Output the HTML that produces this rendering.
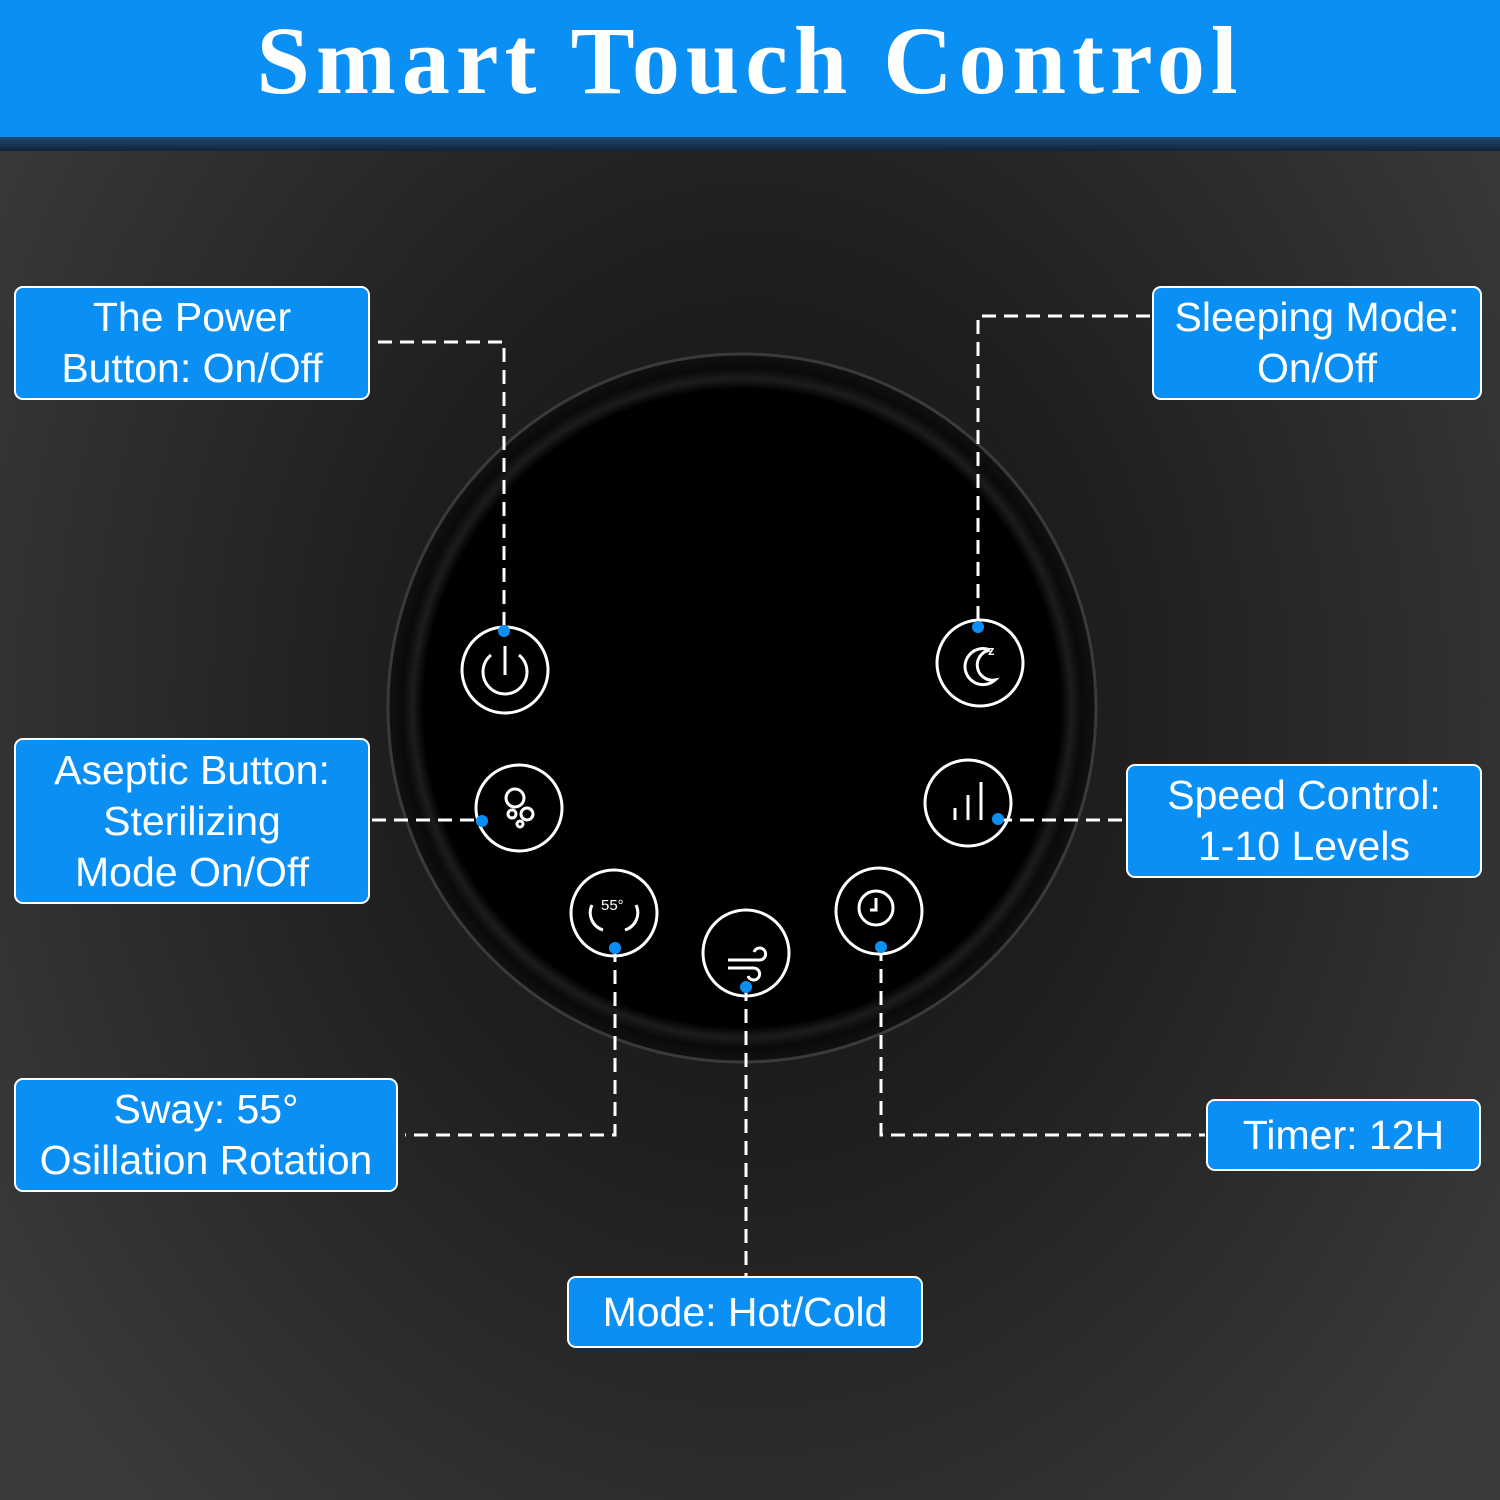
<!DOCTYPE html>
<html><head><meta charset="utf-8"><style>
body{margin:0;width:1500px;height:1500px;overflow:hidden;background:#262626;font-family:"Liberation Sans",sans-serif}
#bg{position:absolute;left:0;top:0;width:1500px;height:1500px;background:radial-gradient(ellipse 900px 1100px at 750px 700px,#151515 0%,#1e1e1e 40%,#2e2e2e 75%,#3a3a3a 100%)}
#hdr{position:absolute;left:0;top:0;width:1500px;height:137px;background:#0a8ff5;color:#fff;font-family:"Liberation Serif",serif;font-weight:bold;font-size:96px;text-align:center;line-height:122px;letter-spacing:6px}
#strip{position:absolute;left:0;top:137px;width:1500px;height:14px;background:linear-gradient(#1e4a70,#10243a)}
.box{position:absolute;box-sizing:border-box;background:#0a8ff5;border:2px solid #fff;border-radius:9px;color:#fff;font-size:41px;line-height:51px;text-align:center;display:flex;align-items:center;justify-content:center}
svg{position:absolute;left:0;top:0}
</style></head><body>
<div id="bg"></div>
<div id="hdr">Smart Touch Control</div>
<div id="strip"></div>
<svg width="1500" height="1500">
<defs><radialGradient id="d" cx="50%" cy="50%" r="50%"><stop offset="0.9" stop-color="#000"/><stop offset="0.93" stop-color="#1c1c1c"/><stop offset="0.96" stop-color="#0a0a0a"/><stop offset="1" stop-color="#111"/></radialGradient></defs>
<circle cx="742" cy="708" r="354" fill="url(#d)" stroke="#3a3a3a" stroke-width="3"/>
<g fill="none" stroke="#fff" stroke-width="3">
<circle cx="505" cy="670" r="43"/><circle cx="980" cy="663" r="43"/>
<circle cx="519" cy="808" r="43"/><circle cx="968" cy="803" r="43"/>
<circle cx="614" cy="913" r="43"/><circle cx="746" cy="953" r="43"/>
<circle cx="879" cy="911" r="43"/>
<path d="M491 655 A22 22 0 1 0 519 655"/><line x1="505" y1="646" x2="505" y2="675"/>
<path d="M990 650 A18 18 0 1 0 995 680 A14 14 0 1 1 990 650"/>
<line x1="955" y1="820" x2="955" y2="808"/><line x1="968" y1="820" x2="968" y2="795"/><line x1="981" y1="820" x2="981" y2="782"/>
<circle cx="515" cy="798" r="9"/><circle cx="527" cy="814" r="6"/><circle cx="512" cy="814" r="4"/><circle cx="520" cy="824" r="3"/>
<path d="M603 930 A18 18 0 0 1 592 905 M625 930 A18 18 0 0 0 636 905"/>
<circle cx="876" cy="908" r="17"/><path d="M876 898 V910 H870"/>
<path d="M728 960 H760 A6 6 0 1 0 754 952 M728 968 H754 A6 6 0 1 1 748 976"/>
</g>
<text x="601" y="910" fill="#fff" font-size="15" font-family="Liberation Sans">55°</text>
<text x="988" y="655" fill="#fff" font-size="13" font-weight="bold" font-family="Liberation Sans">z</text>
<g fill="none" stroke="#fff" stroke-width="3" stroke-dasharray="14 8">
<polyline points="378,342 504,342 504,630"/>
<polyline points="1150,316 978,316 978,627"/>
<line x1="372" y1="820" x2="482" y2="820"/>
<line x1="998" y1="820" x2="1125" y2="820"/>
<polyline points="615,948 615,1135 405,1135"/>
<line x1="746" y1="987" x2="746" y2="1277"/>
<polyline points="881,947 881,1135 1205,1135"/>
</g>
<g fill="#0a8ff5"><circle cx="504" cy="631" r="6"/><circle cx="978" cy="627" r="6"/><circle cx="482" cy="821" r="6"/><circle cx="998" cy="819" r="6"/><circle cx="615" cy="948" r="6"/><circle cx="746" cy="987" r="6"/><circle cx="881" cy="947" r="6"/></g>
</svg>
<div class="box" style="left:14px;top:286px;width:356px;height:114px">The Power<br>Button: On/Off</div>
<div class="box" style="left:1152px;top:286px;width:330px;height:114px">Sleeping Mode:<br>On/Off</div>
<div class="box" style="left:14px;top:738px;width:356px;height:166px">Aseptic Button:<br>Sterilizing<br>Mode On/Off</div>
<div class="box" style="left:1126px;top:764px;width:356px;height:114px">Speed Control:<br>1-10 Levels</div>
<div class="box" style="left:14px;top:1078px;width:384px;height:114px">Sway: 55°<br>Osillation Rotation</div>
<div class="box" style="left:1206px;top:1099px;width:275px;height:72px">Timer: 12H</div>
<div class="box" style="left:567px;top:1276px;width:356px;height:72px">Mode: Hot/Cold</div>
</body></html>
